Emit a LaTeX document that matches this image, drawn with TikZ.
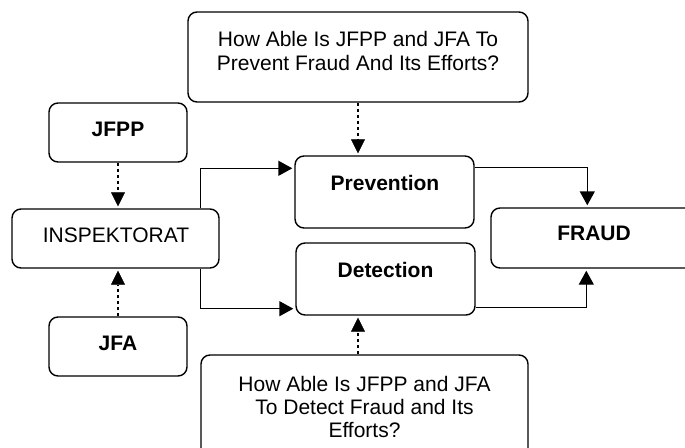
\documentclass[tikz,border=0pt]{standalone}
\usepackage{fontspec}
\setmainfont{Liberation Sans}
\usetikzlibrary{arrows.meta,calc}
\begin{document}
\begin{tikzpicture}[x=1pt,y=-1pt,
  box/.style={draw, line width=1.4pt, rounded corners=9pt, inner sep=0pt},
  txt/.style={font=\fontsize{21}{24}\selectfont, align=center, inner sep=0pt},
  btxt/.style={font=\fontsize{21}{24}\selectfont\bfseries, align=center, inner sep=0pt},
  solidarrow/.style={line width=1.4pt, shorten >=2pt, -{Triangle[length=14pt,width=15pt]}},
  dotarrow/.style={line width=2.5pt, dash pattern=on 3pt off 3pt, shorten >=2pt, -{Triangle[length=14pt,width=14pt,line width=0.5pt]}}]
\useasboundingbox (0,0) rectangle (685,447);
\clip (0,0) rectangle (685,447);
% boxes
\node[box, minimum width=340pt, minimum height=90pt] (q1) at (358,57) {};
\node[txt] (q1t) at (358,51) {How Able Is JFPP and JFA To\\Prevent Fraud And Its Efforts?};
\node[box, minimum width=138pt, minimum height=59pt] (jfpp) at (118,132.5) {};
\node[btxt] (jfppt) at (118,129) {JFPP};
\node[box, minimum width=207pt, minimum height=59pt] (insp) at (115.5,238.5) {};
\node[txt] (inspt) at (116,235) {INSPEKTORAT};
\node[box, minimum width=138pt, minimum height=59pt] (jfa) at (118,346.5) {};
\node[btxt] (jfat) at (118,343) {JFA};
\node[box, minimum width=179pt, minimum height=72pt] (prev) at (384.5,192) {};
\node[btxt] (prevt) at (385,183) {Prevention};
\node[box, minimum width=179pt, minimum height=72pt] (det) at (385.5,279) {};
\node[btxt] (dett) at (385.5,270) {Detection};
\node[box, minimum width=214pt, minimum height=60pt] (fraud) at (598,238) {};
\node[btxt] (fraudt) at (594,233) {FRAUD};
\node[box, minimum width=327pt, minimum height=115pt] (q2) at (364.5,412.5) {};
\node[txt, font=\fontsize{21}{23}\selectfont] (q2t) at (364.5,407) {How Able Is JFPP and JFA\\To Detect Fraud and Its\\Efforts?};
% connectors
\draw[dotarrow] (q1.south) -- (q1.south |- prev.north);
\draw[dotarrow] (q1.south |- q2.north) -- (q1.south |- det.south);
\draw[dotarrow] (jfpp.south) -- (jfpp.south |- insp.north);
\draw[dotarrow] (jfa.north) -- (jfa.north |- insp.south);
\coordinate (sp) at ($(insp.north east)+(-19,0)$);
\draw[solidarrow] (sp) |- ($(prev.north west)+(0,13)$);
\coordinate (sd) at ($(insp.south east)+(-19,0)$);
\draw[solidarrow] (sd) |- ($(det.south west)+(0,-7)$);
\draw[solidarrow] ($(prev.north east)+(0,12)$) -| ($(fraud.north west)+(97,0)$);
\draw[solidarrow] ($(det.south east)+(0,-8)$) -| ($(fraud.south west)+(96,0)$);
\end{tikzpicture}
\end{document}
